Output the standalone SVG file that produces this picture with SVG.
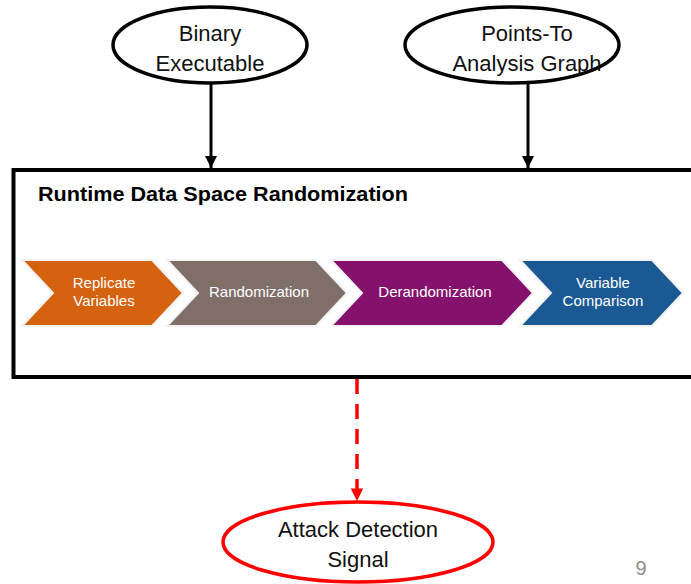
<svg xmlns="http://www.w3.org/2000/svg" width="691" height="584" viewBox="0 0 691 584">
  <defs>
    <marker id="arrowBlack" viewBox="0 0 10 10" refX="10" refY="5" markerWidth="4" markerHeight="4" markerUnits="strokeWidth" orient="auto">
      <path d="M0,0 L10,5 L0,10 Z" fill="#000"/>
    </marker>
    <marker id="arrowRed" viewBox="0 0 10 10" refX="10" refY="5" markerWidth="3.6" markerHeight="3.6" markerUnits="strokeWidth" orient="auto">
      <path d="M0,0 L10,5 L0,10 Z" fill="#ff0000"/>
    </marker>
  </defs>
  <style>
    .lbl { font-family: "Liberation Sans", Arial, sans-serif; font-size: 22px; fill: #111; text-anchor: middle; }
    .step { font-family: "Liberation Sans", Arial, sans-serif; font-size: 15px; fill: #fff; text-anchor: middle; }
    .title { font-family: "Liberation Sans", Arial, sans-serif; font-size: 20px; font-weight: bold; fill: #000; }
    .chev { stroke: #f2f2f2; stroke-width: 2; }
    .oval { fill: #fff; stroke: #000; stroke-width: 3.5; }
  </style>
  <rect width="691" height="584" fill="#fff"/>

  <!-- framework box -->
  <g id="rdsr">
    <rect x="13.5" y="170" width="700" height="207" fill="#fff" stroke="#000" stroke-width="4"/>
    <text class="title" x="38" y="201" textLength="370" lengthAdjust="spacingAndGlyphs">Runtime Data Space Randomization</text>
  </g>

  <!-- pipeline stages -->
  <g id="replicate">
    <polygon class="chev" fill="#d4620f" points="22,260 152,260 183,293 152,326 22,326 53,293"/>
    <text class="step" x="104" y="288">Replicate</text>
    <text class="step" x="104" y="306">Variables</text>
  </g>
  <g id="randomization">
    <polygon class="chev" fill="#7f6f68" points="167,260 316,260 347,293 316,326 167,326 198,293"/>
    <text class="step" x="259" y="297">Randomization</text>
  </g>
  <g id="derandomization">
    <polygon class="chev" fill="#84116c" points="331,260 502,260 533,293 502,326 331,326 362,293"/>
    <text class="step" x="435" y="297">Derandomization</text>
  </g>
  <g id="comparison">
    <polygon class="chev" fill="#1a5994" points="520,260 652,260 683,293 652,326 520,326 551,293"/>
    <text class="step" x="603" y="288">Variable</text>
    <text class="step" x="603" y="306">Comparison</text>
  </g>

  <!-- inputs -->
  <g id="binary">
    <ellipse class="oval" cx="210" cy="45" rx="97" ry="38"/>
    <text class="lbl" x="210" y="41">Binary</text>
    <text class="lbl" x="210" y="71">Executable</text>
  </g>
  <g id="pointsto">
    <ellipse class="oval" cx="512" cy="45" rx="107" ry="38"/>
    <text class="lbl" x="527" y="41">Points-To</text>
    <text class="lbl" x="527" y="71">Analysis Graph</text>
  </g>

  <!-- output -->
  <g id="attack">
    <ellipse cx="358" cy="542" rx="135" ry="40" fill="#fff" stroke="#ff0000" stroke-width="3.5"/>
    <text class="lbl" x="358" y="537">Attack Detection</text>
    <text class="lbl" x="358" y="567">Signal</text>
  </g>

  <!-- connectors -->
  <g id="connectors">
    <line x1="211" y1="84" x2="211" y2="168" stroke="#000" stroke-width="3" marker-end="url(#arrowBlack)"/>
    <line x1="528" y1="84" x2="528" y2="168" stroke="#000" stroke-width="3" marker-end="url(#arrowBlack)"/>
    <line x1="357" y1="379" x2="357" y2="501" stroke="#ff0000" stroke-width="3.5" stroke-dasharray="15 10" marker-end="url(#arrowRed)"/>
  </g>

  <text x="641" y="575" font-family="Liberation Sans, Arial, sans-serif" font-size="20" fill="#8c8c8c" text-anchor="middle">9</text>
</svg>
